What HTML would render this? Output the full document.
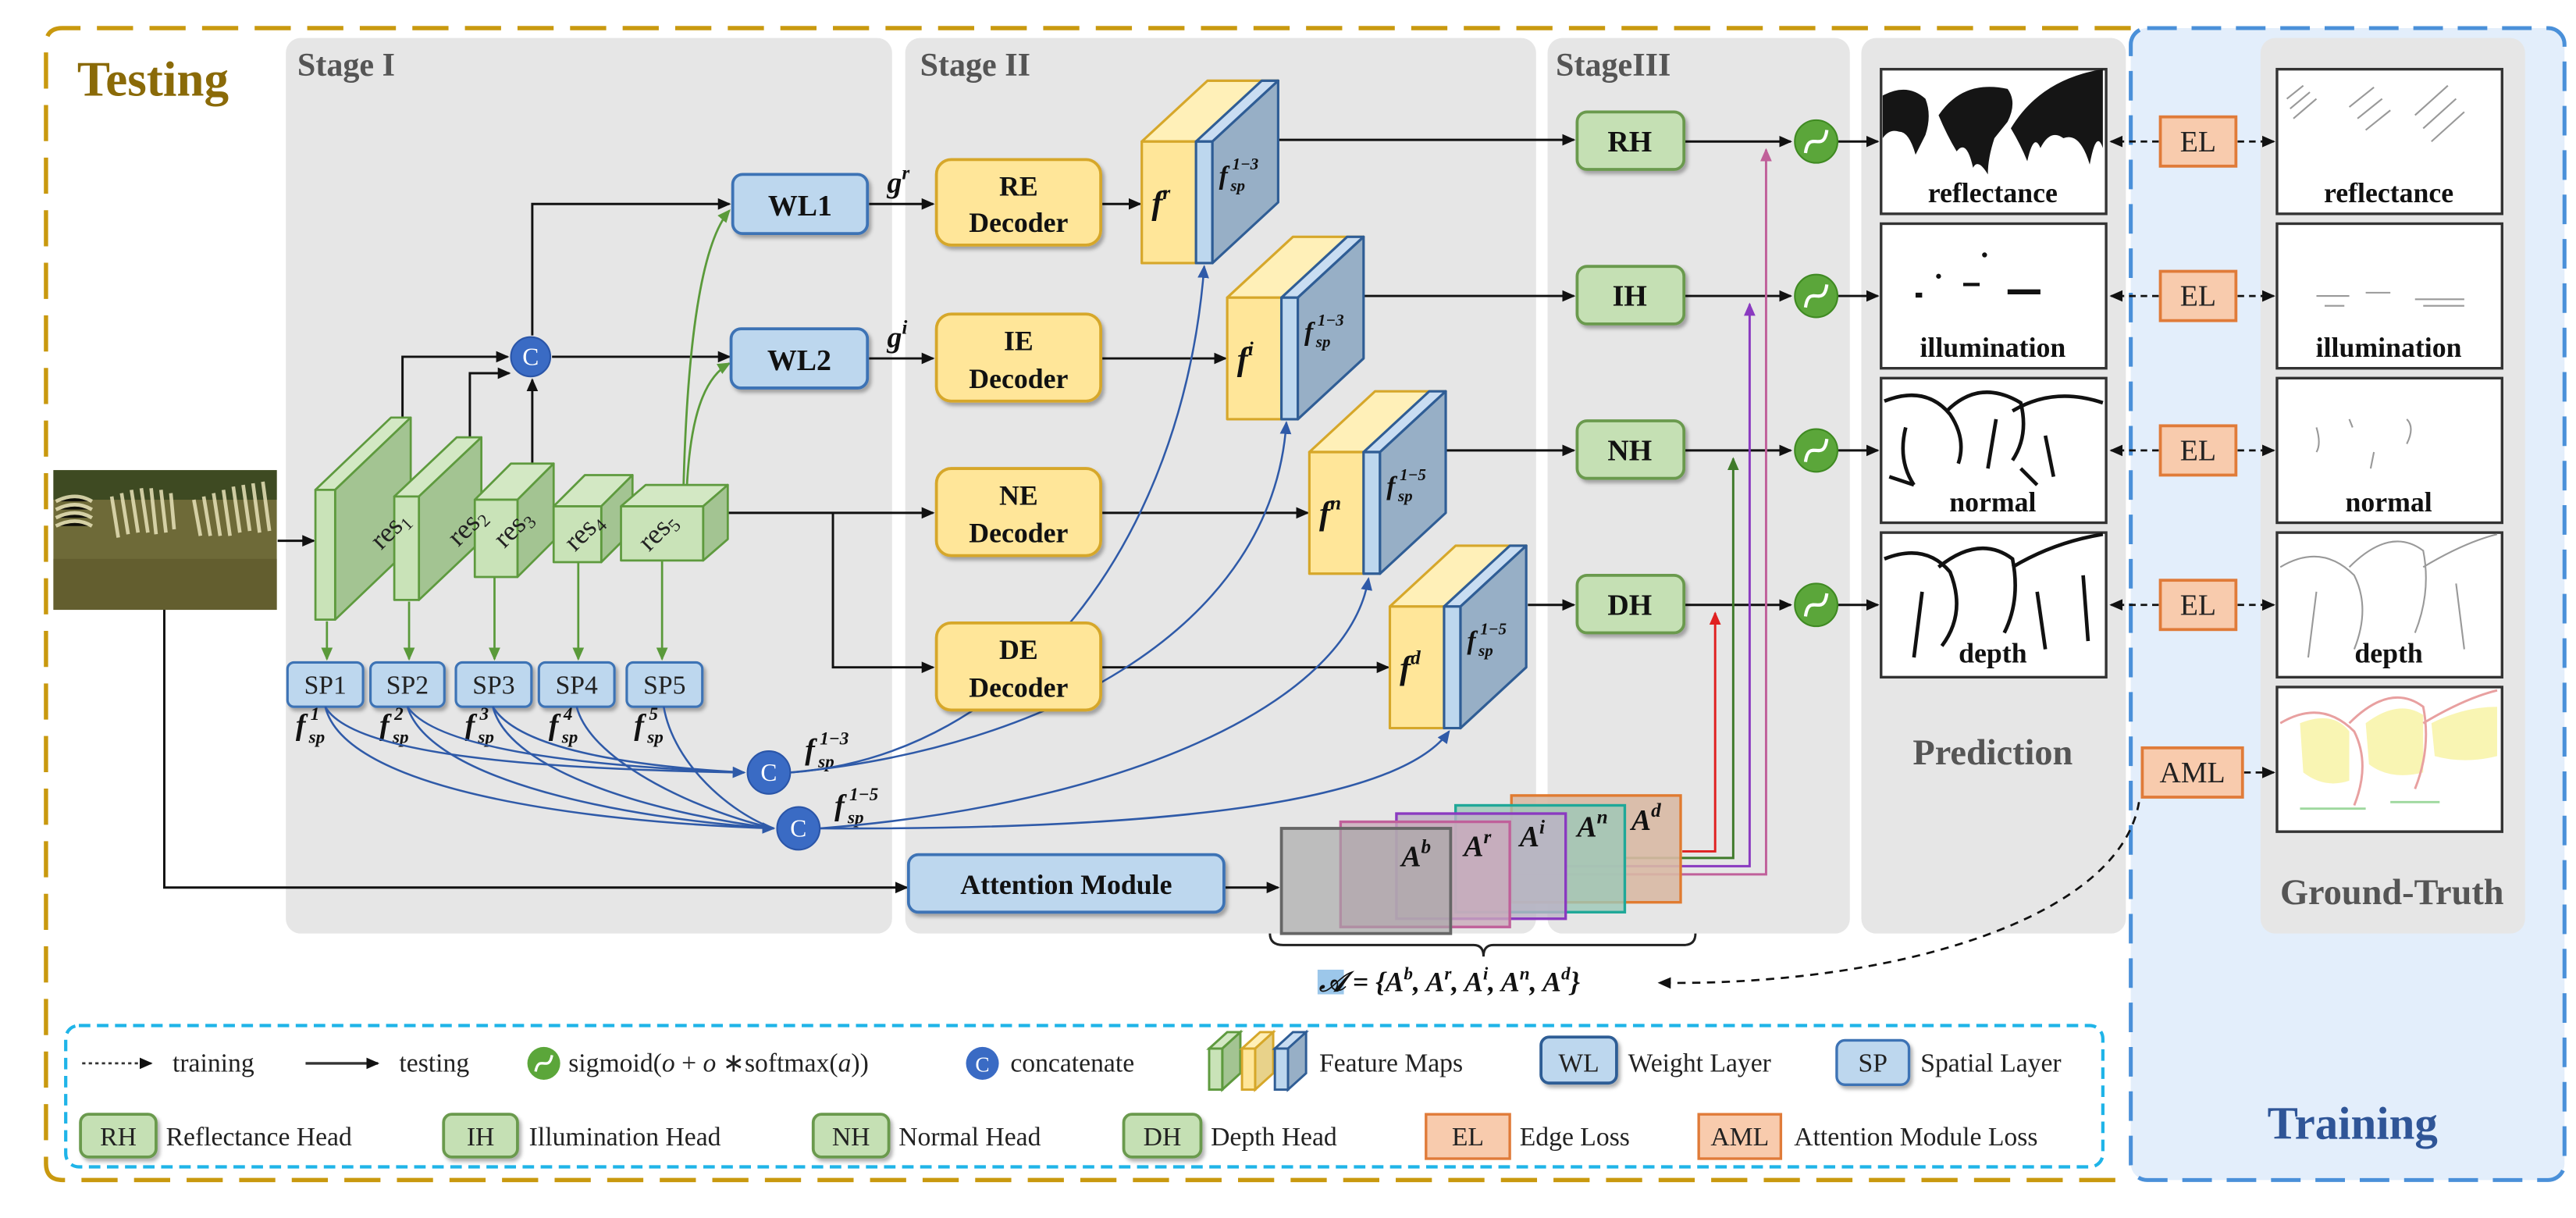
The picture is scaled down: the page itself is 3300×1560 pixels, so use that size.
<!DOCTYPE html>
<html><head><meta charset="utf-8"><style>
html,body{margin:0;padding:0;background:#fff}
svg{display:block}
text{font-family:"Liberation Serif",serif}
.b{font-weight:bold}
.i{font-style:italic;font-weight:bold}
</style></head><body>
<svg width="3300" height="1560" viewBox="0 0 1568 741" xmlns="http://www.w3.org/2000/svg">
<defs>
<marker id="ak" markerWidth="8" markerHeight="8" refX="7" refY="4" orient="auto" markerUnits="userSpaceOnUse"><path d="M0,0.5 L8,4 L0,7.5 z" fill="#111"/></marker>
<marker id="ab" markerWidth="8" markerHeight="8" refX="7" refY="4" orient="auto" markerUnits="userSpaceOnUse"><path d="M0,0.5 L8,4 L0,7.5 z" fill="#2f5aa8"/></marker>
<marker id="ag" markerWidth="8" markerHeight="8" refX="7" refY="4" orient="auto" markerUnits="userSpaceOnUse"><path d="M0,0.5 L8,4 L0,7.5 z" fill="#5a9a3a"/></marker>
<marker id="ar" markerWidth="8" markerHeight="8" refX="7" refY="4" orient="auto" markerUnits="userSpaceOnUse"><path d="M0,0.5 L8,4 L0,7.5 z" fill="#e02020"/></marker>
<marker id="adg" markerWidth="8" markerHeight="8" refX="7" refY="4" orient="auto" markerUnits="userSpaceOnUse"><path d="M0,0.5 L8,4 L0,7.5 z" fill="#3f7a2a"/></marker>
<marker id="ap" markerWidth="8" markerHeight="8" refX="7" refY="4" orient="auto" markerUnits="userSpaceOnUse"><path d="M0,0.5 L8,4 L0,7.5 z" fill="#8a3ac0"/></marker>
<marker id="apk" markerWidth="8" markerHeight="8" refX="7" refY="4" orient="auto" markerUnits="userSpaceOnUse"><path d="M0,0.5 L8,4 L0,7.5 z" fill="#c0609a"/></marker>
<filter id="sh" x="-10%" y="-10%" width="130%" height="140%"><feDropShadow dx="1.5" dy="2" stdDeviation="1.2" flood-color="#000" flood-opacity="0.3"/></filter>
</defs>

<rect x="1297" y="17" width="264" height="701" rx="10" fill="#E3EEFB"/>
<rect x="174" y="23" width="369" height="545" rx="9" fill="#E6E6E6"/>
<rect x="551" y="23" width="384" height="545" rx="9" fill="#E6E6E6"/>
<rect x="942" y="23" width="184" height="545" rx="9" fill="#E6E6E6"/>
<rect x="1133" y="23" width="161" height="545" rx="9" fill="#E6E6E6"/>
<rect x="1376" y="23" width="161" height="545" rx="9" fill="#E6E6E6"/>
<path d="M1297,17 H38 Q28,17 28,27 V708 Q28,718 38,718 H1297" fill="none" stroke="#C9990F" stroke-width="2.6" stroke-dasharray="22,10"/>
<rect x="1297" y="17" width="264" height="701" rx="10" fill="none" stroke="#4A90D9" stroke-width="2.4" stroke-dasharray="18,9"/>
<text x="47" y="58" class="b" font-size="30" fill="#8A6A08">Testing</text>
<text x="1432" y="693" class="b" font-size="28" fill="#2F5597" text-anchor="middle">Training</text>
<text x="181" y="46" class="b" font-size="20" fill="#555">Stage I</text>
<text x="560" y="46" class="b" font-size="20" fill="#555">Stage II</text>
<text x="947" y="46" class="b" font-size="20" fill="#555">StageIII</text>
<text x="1213" y="465" class="b" font-size="22" fill="#555" text-anchor="middle">Prediction</text>
<text x="1456" y="550" class="b" font-size="22" fill="#555" text-anchor="middle">Ground-Truth</text>

<!-- zebra input -->
<rect x="32.5" y="286" width="136" height="85" fill="#6E6A38"/>
<rect x="32.5" y="286" width="136" height="18" fill="#3E4A22"/>
<g stroke="#E8E2B8" stroke-width="2.2" opacity="0.85">
<path d="M34,305 q12,-6 22,0 M34,310 q12,-6 22,0 M34,315 q12,-6 22,0 M34,320 q12,-6 22,0"/>
<path d="M68,302 l4,25 M74,300 l4,25 M80,298 l4,26 M86,297 l4,27 M92,297 l3,28 M98,298 l3,26 M104,300 l2,22"/>
<path d="M118,304 l4,22 M124,302 l4,24 M130,300 l4,26 M136,298 l4,28 M142,296 l4,28 M148,295 l4,28 M154,294 l4,30 M160,293 l4,30"/>
</g>
<rect x="32.5" y="340" width="136" height="31" fill="#5E5A2C" opacity="0.7"/>

<g fill="none" stroke="#111" stroke-width="1.4">
<path d="M169,329 H191" marker-end="url(#ak)"/>
<path d="M100,371 V540 H552" marker-end="url(#ak)"/>
<path d="M245,254 V217 H309" marker-end="url(#ak)"/>
<path d="M286,267 V227 H310" marker-end="url(#ak)"/>
<path d="M324,283 V231" marker-end="url(#ak)"/>
<path d="M324,204 V124 H444" marker-end="url(#ak)"/>
<path d="M336,217 H444" marker-end="url(#ak)"/>
<path d="M443,312 H568" marker-end="url(#ak)"/>
<path d="M507,312 V406 H568" marker-end="url(#ak)"/>
<path d="M529,124 H568" marker-end="url(#ak)"/>
<path d="M529,218 H568" marker-end="url(#ak)"/>
<path d="M671,124 H694" marker-end="url(#ak)"/>
<path d="M671,218 H746" marker-end="url(#ak)"/>
<path d="M671,312 H796" marker-end="url(#ak)"/>
<path d="M671,406 H845" marker-end="url(#ak)"/>
<path d="M746,540 H778" marker-end="url(#ak)"/>
<path d="M778,85 H958" marker-end="url(#ak)"/>
<path d="M830,180 H958" marker-end="url(#ak)"/>
<path d="M880,274 H958" marker-end="url(#ak)"/>
<path d="M930,368 H958" marker-end="url(#ak)"/>
<path d="M1025,86 H1090" marker-end="url(#ak)"/>
<path d="M1025,180 H1090" marker-end="url(#ak)"/>
<path d="M1025,274 H1090" marker-end="url(#ak)"/>
<path d="M1025,368 H1090" marker-end="url(#ak)"/>
<path d="M1119,86 H1143" marker-end="url(#ak)"/>
<path d="M1119,180 H1143" marker-end="url(#ak)"/>
<path d="M1119,274 H1143" marker-end="url(#ak)"/>
<path d="M1119,368 H1143" marker-end="url(#ak)"/>
</g>
<g fill="none" stroke="#5a9a3a" stroke-width="1.3">
<path d="M416,298 C418,220 425,150 444,128" marker-end="url(#ag)"/>
<path d="M418,298 C420,255 428,230 444,221" marker-end="url(#ag)"/>
<path d="M199,378 V401" marker-end="url(#ag)"/>
<path d="M249,366 V401" marker-end="url(#ag)"/>
<path d="M301,351 V401" marker-end="url(#ag)"/>
<path d="M352,342 V401" marker-end="url(#ag)"/>
<path d="M403,341 V401" marker-end="url(#ag)"/>
</g>

<g stroke="#5E9A3E" stroke-width="1.3" stroke-linejoin="round">
<path d="M192,298 L238,254 L250,254 L204,298 z" fill="#D3E8C4"/>
<path d="M204,298 L250,254 L250,333 L204,377 z" fill="#A3C492"/>
<rect x="192" y="298" width="12" height="79" fill="#C9E3B8"/>
<path d="M240,302 L278,266 L293,266 L255,302 z" fill="#D3E8C4"/>
<path d="M255,302 L293,266 L293,329 L255,365 z" fill="#A3C492"/>
<rect x="240" y="302" width="15" height="63" fill="#C9E3B8"/>
<path d="M289,304 L311,282 L337,282 L315,304 z" fill="#D3E8C4"/>
<path d="M315,304 L337,282 L337,329 L315,351 z" fill="#A3C492"/>
<rect x="289" y="304" width="26" height="47" fill="#C9E3B8"/>
<path d="M337,308 L356,289 L385,289 L366,308 z" fill="#D3E8C4"/>
<path d="M366,308 L385,289 L385,323 L366,342 z" fill="#A3C492"/>
<rect x="337" y="308" width="29" height="34" fill="#C9E3B8"/>
<path d="M378,308 L393,295 L443,295 L428,308 z" fill="#D3E8C4"/>
<path d="M428,308 L443,295 L443,328 L428,341 z" fill="#A3C492"/>
<rect x="378" y="308" width="50" height="33" fill="#C9E3B8"/>
</g>
<g font-family="Liberation Sans" font-size="17" fill="#222">
<text transform="translate(232,335) rotate(-45)" font-family="Liberation Sans">res<tspan font-size="11" dy="3">1</tspan></text>
<text transform="translate(279,333) rotate(-45)" font-family="Liberation Sans">res<tspan font-size="11" dy="3">2</tspan></text>
<text transform="translate(307,334) rotate(-45)" font-family="Liberation Sans">res<tspan font-size="11" dy="3">3</tspan></text>
<text transform="translate(350,336) rotate(-45)" font-family="Liberation Sans">res<tspan font-size="11" dy="3">4</tspan></text>
<text transform="translate(395,336) rotate(-45)" font-family="Liberation Sans">res<tspan font-size="11" dy="3">5</tspan></text>
</g>

<g fill="#BDD7EE" stroke="#3E73B5" stroke-width="1.5" filter="url(#sh)">
<rect x="175" y="403" width="46" height="27" rx="4"/>
<rect x="225.5" y="403" width="45" height="27" rx="4"/>
<rect x="277.5" y="403" width="46" height="27" rx="4"/>
<rect x="328" y="403" width="46" height="27" rx="4"/>
<rect x="381.5" y="403" width="46" height="27" rx="4"/>
</g>
<g font-size="16" fill="#222" text-anchor="middle">
<text x="198" y="422">SP1</text><text x="248" y="422">SP2</text><text x="300.5" y="422">SP3</text><text x="351" y="422">SP4</text><text x="404.5" y="422">SP5</text>
</g>
<g class="i" fill="#111">
<text x="180" y="447" font-size="18">f</text><text x="188" y="452" font-size="11">sp</text><text x="189" y="438" font-size="11">1</text>
<text x="231" y="447" font-size="18">f</text><text x="239" y="452" font-size="11">sp</text><text x="240" y="438" font-size="11">2</text>
<text x="283" y="447" font-size="18">f</text><text x="291" y="452" font-size="11">sp</text><text x="292" y="438" font-size="11">3</text>
<text x="334" y="447" font-size="18">f</text><text x="342" y="452" font-size="11">sp</text><text x="343" y="438" font-size="11">4</text>
<text x="386" y="447" font-size="18">f</text><text x="394" y="452" font-size="11">sp</text><text x="395" y="438" font-size="11">5</text>
<text x="490" y="462" font-size="18">f</text><text x="498" y="467" font-size="11">sp</text><text x="499" y="453" font-size="11">1−3</text>
<text x="508" y="496" font-size="18">f</text><text x="516" y="501" font-size="11">sp</text><text x="517" y="487" font-size="11">1−5</text>
</g>

<g fill="none" stroke="#2f5aa8" stroke-width="1.2">
<path d="M198,430 C215,460 330,468 453,470" marker-end="url(#ab)"/>
<path d="M248,430 C265,455 350,466 453,470"/>
<path d="M300,430 C315,455 380,466 453,470"/>
<path d="M198,430 C210,480 350,500 471,504" marker-end="url(#ab)"/>
<path d="M248,430 C262,475 380,498 471,504"/>
<path d="M300,430 C310,470 400,495 471,504"/>
<path d="M351,430 C360,465 430,495 471,504"/>
<path d="M404,430 C410,465 445,495 471,504"/>
<path d="M481,470 C620,460 720,330 733,162" marker-end="url(#ab)"/>
<path d="M481,470 C640,455 775,380 783,257" marker-end="url(#ab)"/>
<path d="M499,504 C680,490 820,430 833,352" marker-end="url(#ab)"/>
<path d="M499,504 C700,505 850,490 882,445" marker-end="url(#ab)"/>
</g>
<g fill="#3A6BC4" stroke="#2a55a8" stroke-width="1">
<circle cx="323" cy="217" r="12"/><circle cx="468" cy="470" r="13"/><circle cx="486" cy="504" r="13"/>
</g>
<g font-size="15" fill="#fff" text-anchor="middle">
<text x="323" y="222">C</text><text x="468" y="475">C</text><text x="486" y="509">C</text>
</g>

<g fill="#BDD7EE" stroke="#3E73B5" stroke-width="1.8" filter="url(#sh)">
<rect x="446" y="106" width="82" height="36" rx="6"/>
<rect x="445" y="200" width="83" height="36" rx="6"/>
</g>
<text x="487" y="131" class="b" font-size="18" text-anchor="middle" fill="#111">WL1</text>
<text x="486.5" y="225" class="b" font-size="18" text-anchor="middle" fill="#111">WL2</text>
<text x="540" y="117" class="i" font-size="18" fill="#111">g<tspan font-size="12" dy="-8">r</tspan></text>
<text x="540" y="211" class="i" font-size="18" fill="#111">g<tspan font-size="12" dy="-8">i</tspan></text>

<g fill="#FFE699" stroke="#D6A72A" stroke-width="1.8" filter="url(#sh)">
<rect x="570" y="97" width="100" height="52" rx="9"/>
<rect x="570" y="191" width="100" height="53" rx="9"/>
<rect x="570" y="285" width="100" height="53" rx="9"/>
<rect x="570" y="379" width="100" height="53" rx="9"/>
</g>
<g class="b" font-size="17" text-anchor="middle" fill="#111">
<text x="620" y="119">RE</text><text x="620" y="141">Decoder</text>
<text x="620" y="213">IE</text><text x="620" y="236">Decoder</text>
<text x="620" y="307">NE</text><text x="620" y="330">Decoder</text>
<text x="620" y="401">DE</text><text x="620" y="424">Decoder</text>
</g>

<g id="fm" stroke-width="1.5" stroke-linejoin="round">
<path d="M695,86 L735,49 L778,49 L738,86 z" fill="#FFF0B8" stroke="#D6A72A"/>
<rect x="695" y="86" width="33" height="74" fill="#FFE699" stroke="#D6A72A"/>
<path d="M728,86 L768,49 L778,49 L738,86 z" fill="#C9DDF2" stroke="#2F5D95"/>
<rect x="728" y="86" width="10" height="74" fill="#BDD7EE" stroke="#2F5D95"/>
<path d="M738,86 L778,49 L778,123 L738,160 z" fill="#97AFC6" stroke="#2F5D95"/>
</g>
<use href="#fm" transform="translate(52,95)"/>
<use href="#fm" transform="translate(102,189)"/>
<use href="#fm" transform="translate(151,283)"/>
<g class="i" font-size="20" fill="#111">
<text x="701" y="130">f<tspan font-size="12" dy="-9">r</tspan></text>
<text x="753" y="225">f<tspan font-size="12" dy="-9">i</tspan></text>
<text x="803" y="319">f<tspan font-size="12" dy="-9">n</tspan></text>
<text x="852" y="413">f<tspan font-size="12" dy="-9">d</tspan></text>
</g>
<g class="i" fill="#111">
<text x="742" y="112" font-size="16">f</text><text x="749" y="116" font-size="10">sp</text><text x="750" y="103" font-size="10">1−3</text>
<text x="794" y="207" font-size="16">f</text><text x="801" y="211" font-size="10">sp</text><text x="802" y="198" font-size="10">1−3</text>
<text x="844" y="301" font-size="16">f</text><text x="851" y="305" font-size="10">sp</text><text x="852" y="292" font-size="10">1−5</text>
<text x="893" y="395" font-size="16">f</text><text x="900" y="399" font-size="10">sp</text><text x="901" y="386" font-size="10">1−5</text>
</g>

<rect x="553" y="520" width="192" height="35" rx="6" fill="#BDD7EE" stroke="#3E73B5" stroke-width="1.8" filter="url(#sh)"/>
<text x="649" y="544" class="b" font-size="17" text-anchor="middle" fill="#111">Attention Module</text>
<g fill="none" stroke-width="1.4">
<path d="M1024,518 H1044 V373" stroke="#e02020" marker-end="url(#ar)"/>
<path d="M989,522 H1055 V279" stroke="#3f7a2a" marker-end="url(#adg)"/>
<path d="M953,527 H1065 V185" stroke="#8a3ac0" marker-end="url(#ap)"/>
<path d="M919,532 H1075 V91" stroke="#c0609a" marker-end="url(#apk)"/>
</g>
<rect x="920" y="484" width="103" height="65" fill="#D8B9A4" fill-opacity="0.9" stroke="#E07B30" stroke-width="1.6"/>
<rect x="886" y="490" width="103" height="65" fill="#9CC8B8" fill-opacity="0.8" stroke="#1FA898" stroke-width="1.6"/>
<rect x="850" y="495" width="103" height="64" fill="#BBB2C6" fill-opacity="0.8" stroke="#8A3AC0" stroke-width="1.6"/>
<rect x="816" y="500" width="103" height="64" fill="#C9AABA" fill-opacity="0.8" stroke="#C0609A" stroke-width="1.6"/>
<rect x="780" y="504" width="103" height="64" fill="#A8A8A8" fill-opacity="0.65" stroke="#666" stroke-width="1.8"/>
<g class="i" font-size="18" fill="#111">
<text x="853" y="527">A<tspan font-size="12" dy="-8">b</tspan></text>
<text x="891" y="521">A<tspan font-size="12" dy="-8">r</tspan></text>
<text x="925" y="515">A<tspan font-size="12" dy="-8">i</tspan></text>
<text x="960" y="509">A<tspan font-size="12" dy="-8">n</tspan></text>
<text x="993" y="505">A<tspan font-size="12" dy="-8">d</tspan></text>
</g>
<path d="M773,568 Q773,575 781,575 H897 Q903,575 903,582 Q903,575 909,575 H1025 Q1032,575 1032,568" fill="none" stroke="#222" stroke-width="1.4"/>
<rect x="802" y="590" width="16" height="15" fill="#9CC7EA"/>
<text x="803" y="603" class="i" font-size="17" fill="#111">𝒜 = {A<tspan font-size="11" dy="-7">b</tspan><tspan dy="7">, A</tspan><tspan font-size="11" dy="-7">r</tspan><tspan dy="7">, A</tspan><tspan font-size="11" dy="-7">i</tspan><tspan dy="7">, A</tspan><tspan font-size="11" dy="-7">n</tspan><tspan dy="7">, A</tspan><tspan font-size="11" dy="-7">d</tspan><tspan dy="7">}</tspan></text>
<path d="M1302,488 C1290,560 1150,600 1010,598" fill="none" stroke="#111" stroke-width="1.3" stroke-dasharray="5,4" marker-end="url(#ak)"/>

<g fill="#C5E0B4" stroke="#6A9A4E" stroke-width="1.8" filter="url(#sh)">
<rect x="960" y="68" width="65" height="35" rx="6"/>
<rect x="960" y="162" width="65" height="35" rx="6"/>
<rect x="960" y="256" width="65" height="35" rx="6"/>
<rect x="960" y="350" width="65" height="35" rx="6"/>
</g>
<g class="b" font-size="18" text-anchor="middle" fill="#111">
<text x="992" y="92">RH</text><text x="992" y="186">IH</text><text x="992" y="280">NH</text><text x="992" y="374">DH</text>
</g>
<g>
<circle cx="1105.5" cy="86" r="13" fill="#5BA63A" stroke="#3f8a22"/>
<circle cx="1105.5" cy="180" r="13" fill="#5BA63A" stroke="#3f8a22"/>
<circle cx="1105.5" cy="274" r="13" fill="#5BA63A" stroke="#3f8a22"/>
<circle cx="1105.5" cy="368" r="13" fill="#5BA63A" stroke="#3f8a22"/>
</g>
<g fill="none" stroke="#fff" stroke-width="2">
<path d="M1099,93 C1101,78 1110,94 1112,79"/><path d="M1099,187 C1101,172 1110,188 1112,173"/>
<path d="M1099,281 C1101,266 1110,282 1112,267"/><path d="M1099,375 C1101,360 1110,376 1112,361"/>
</g>

<g fill="#fff" stroke="#333" stroke-width="1.6">
<rect x="1145" y="42" width="137" height="88"/>
<rect x="1145" y="136" width="137" height="88"/>
<rect x="1145" y="230" width="137" height="88"/>
<rect x="1145" y="324" width="137" height="88"/>
<rect x="1386" y="42" width="137" height="88"/>
<rect x="1386" y="136" width="137" height="88"/>
<rect x="1386" y="230" width="137" height="88"/>
<rect x="1386" y="324" width="137" height="88"/>
<rect x="1386" y="418" width="137" height="88"/>
</g>
<g fill="#151515">
<path d="M1146,58 q15,-8 26,2 q4,10 0,22 l-6,12 q-4,-14 -10,-14 q-6,-2 -10,4 z"/>
<path d="M1180,70 q15,-22 42,-16 q6,8 0,20 l-8,10 q-4,12 -4,22 q-6,-10 -9,-4 q-4,-18 -10,-10 q-6,-10 -11,-22 z"/>
<path d="M1224,78 q18,-30 56,-36 l0,48 q-4,-12 -8,10 q-6,-20 -16,-16 q-8,-6 -14,6 q-4,-10 -8,8 q-4,-10 -10,-20 z"/>
</g>
<g fill="#111">
<circle cx="1180" cy="168" r="1.5"/><circle cx="1208" cy="155" r="1.5"/><path d="M1195,172 h10 v2 h-10z M1222,176 h20 v3 h-20z M1166,178 h4 v3 h-4z"/>
</g>
<g fill="none" stroke="#111" stroke-width="2.2">
<path d="M1147,244 q25,-10 40,8 q10,15 5,30 M1185,250 q20,-20 45,-5 q5,20 -5,35 M1225,250 q25,-15 55,-5 M1160,260 q-5,20 5,35 M1215,255 l-5,30 M1245,265 l5,25 M1150,290 l15,5 M1230,285 l10,10"/>
<path d="M1147,340 q25,-10 40,8 q10,25 -5,45 M1180,345 q25,-20 45,-5 q5,25 -5,45 M1225,345 q25,-15 55,-20 M1170,360 l-5,40 M1240,360 l5,35 M1268,350 l3,40"/>
</g>
<g fill="none" stroke="#999" stroke-width="1">
<path d="M1392,60 l10,-8 M1394,66 l12,-10 M1396,72 l14,-12 M1430,65 l15,-12 M1435,72 l15,-12 M1440,79 l15,-12 M1470,70 l20,-18 M1475,78 l20,-18 M1480,86 l20,-18"/>
<path d="M1410,180 h20 M1440,178 h15 M1470,182 h30 M1415,186 h12 M1475,186 h25"/>
<path d="M1410,260 q3,10 0,15 M1430,255 l2,5 M1465,255 q5,5 0,15 M1445,275 l-2,10"/>
<path d="M1388,345 q25,-15 45,5 q10,20 0,45 M1430,345 q25,-25 45,-10 q5,25 -5,50 M1475,345 q25,-15 45,-20 M1410,360 l-5,40 M1495,355 l5,40"/>
</g>
<g fill="none" stroke-width="1.4">
<path d="M1400,440 q20,-8 30,5 l0,30 q-15,5 -28,-5z M1440,440 q20,-15 35,-5 l0,35 q-20,5 -33,-5z M1480,440 q20,-10 40,-10 l0,30 q-20,5 -38,0z" stroke="none" fill="#F8F2A0" opacity="0.8"/>
<path d="M1388,440 q25,-15 45,5 q10,20 0,45 M1430,440 q25,-25 45,-10 q5,25 -5,50 M1475,440 q25,-15 45,-20" stroke="#E8A0A0"/>
<path d="M1400,492 h40 M1455,488 h30" stroke="#9ED89E"/>
</g>
<g class="b" font-size="17" text-anchor="middle" fill="#111">
<text x="1213" y="123">reflectance</text><text x="1213" y="217">illumination</text><text x="1213" y="311">normal</text><text x="1213" y="403">depth</text>
<text x="1454" y="123">reflectance</text><text x="1454" y="217">illumination</text><text x="1454" y="311">normal</text><text x="1454" y="403">depth</text>
</g>
<g fill="none" stroke="#111" stroke-width="1.3" stroke-dasharray="4,3">
<path d="M1314,86 H1285" marker-end="url(#ak)"/><path d="M1362,86 H1384" marker-end="url(#ak)"/>
<path d="M1314,180 H1285" marker-end="url(#ak)"/><path d="M1362,180 H1384" marker-end="url(#ak)"/>
<path d="M1314,274 H1285" marker-end="url(#ak)"/><path d="M1362,274 H1384" marker-end="url(#ak)"/>
<path d="M1314,368 H1285" marker-end="url(#ak)"/><path d="M1362,368 H1384" marker-end="url(#ak)"/>
<path d="M1366,470 H1384" marker-end="url(#ak)"/>
</g>
<g fill="#F8CBAD" stroke="#E07B39" stroke-width="1.8">
<rect x="1315" y="71" width="46" height="30"/>
<rect x="1315" y="165" width="46" height="30"/>
<rect x="1315" y="259" width="46" height="30"/>
<rect x="1315" y="353" width="46" height="30"/>
<rect x="1304" y="455" width="61" height="30"/>
</g>
<g font-size="18" text-anchor="middle" fill="#222">
<text x="1338" y="92">EL</text><text x="1338" y="186">EL</text><text x="1338" y="280">EL</text><text x="1338" y="374">EL</text><text x="1334.5" y="476">AML</text>
</g>

<rect x="40" y="624" width="1240" height="86" rx="8" fill="none" stroke="#1FB4E8" stroke-width="2" stroke-dasharray="7,4"/>
<g font-size="16" fill="#222">
<path d="M50,647 H92" stroke="#333" stroke-width="1.3" stroke-dasharray="2,2" marker-end="url(#ak)"/>
<text x="105" y="652">training</text>
<path d="M186,647 H230" stroke="#333" stroke-width="1.6" marker-end="url(#ak)"/>
<text x="243" y="652">testing</text>
<circle cx="331" cy="647" r="10" fill="#5BA63A"/><path d="M326,652 C328,641 334,653 336,642" stroke="#fff" stroke-width="1.6" fill="none"/>
<text x="346" y="652">sigmoid(<tspan font-style="italic">o</tspan> + <tspan font-style="italic">o</tspan> ∗softmax(<tspan font-style="italic">a</tspan>))</text>
<circle cx="598" cy="647" r="10" fill="#3A6BC4"/><text x="598" y="652" fill="#fff" font-size="13" text-anchor="middle">C</text>
<text x="615" y="652">concatenate</text>
<g stroke-width="1.4">
<path d="M736,638 L747,628 L755,628 L744,638 z" fill="#D3E8C4" stroke="#5E9A3E"/><path d="M744,638 L755,628 L755,653 L744,663 z" fill="#A3C492" stroke="#5E9A3E"/><rect x="736" y="638" width="8" height="25" fill="#C9E3B8" stroke="#5E9A3E"/>
<path d="M756,638 L767,628 L775,628 L764,638 z" fill="#FFF0B8" stroke="#D6A72A"/><path d="M764,638 L775,628 L775,653 L764,663 z" fill="#E8D28A" stroke="#D6A72A"/><rect x="756" y="638" width="8" height="25" fill="#FFE699" stroke="#D6A72A"/>
<path d="M776,638 L787,628 L795,628 L784,638 z" fill="#C9DDF2" stroke="#2F5D95"/><path d="M784,638 L795,628 L795,653 L784,663 z" fill="#97AFC6" stroke="#2F5D95"/><rect x="776" y="638" width="8" height="25" fill="#BDD7EE" stroke="#2F5D95"/>
</g>
<text x="803" y="652">Feature Maps</text>
<rect x="938" y="631" width="46" height="28" rx="5" fill="#BDD7EE" stroke="#2F5D95" stroke-width="1.8" filter="url(#sh)"/><text x="961" y="652" text-anchor="middle">WL</text>
<text x="991" y="652">Weight Layer</text>
<rect x="1118" y="633" width="44" height="27" rx="5" fill="#BDD7EE" stroke="#3E73B5" stroke-width="1.6" filter="url(#sh)"/><text x="1140" y="652" text-anchor="middle">SP</text>
<text x="1169" y="652">Spatial Layer</text>

<g fill="#C5E0B4" stroke="#6A9A4E" stroke-width="1.8" filter="url(#sh)">
<rect x="49" y="678" width="46" height="26" rx="5"/><rect x="270" y="678" width="45" height="26" rx="5"/>
<rect x="495" y="678" width="46" height="26" rx="5"/><rect x="684" y="678" width="47" height="26" rx="5"/>
</g>
<g fill="#F8CBAD" stroke="#E07B39" stroke-width="1.6">
<rect x="868" y="678" width="51" height="27"/><rect x="1034" y="678" width="50" height="27"/>
</g>
<g text-anchor="middle">
<text x="72" y="697">RH</text><text x="292.5" y="697">IH</text><text x="518" y="697">NH</text><text x="707.5" y="697">DH</text><text x="893.5" y="697">EL</text><text x="1059" y="697">AML</text>
</g>
<text x="101" y="697">Reflectance Head</text>
<text x="322" y="697">Illumination Head</text>
<text x="547" y="697">Normal Head</text>
<text x="737" y="697">Depth Head</text>
<text x="925" y="697">Edge Loss</text>
<text x="1092" y="697">Attention Module Loss</text>
</g>
</svg>
</body></html>
